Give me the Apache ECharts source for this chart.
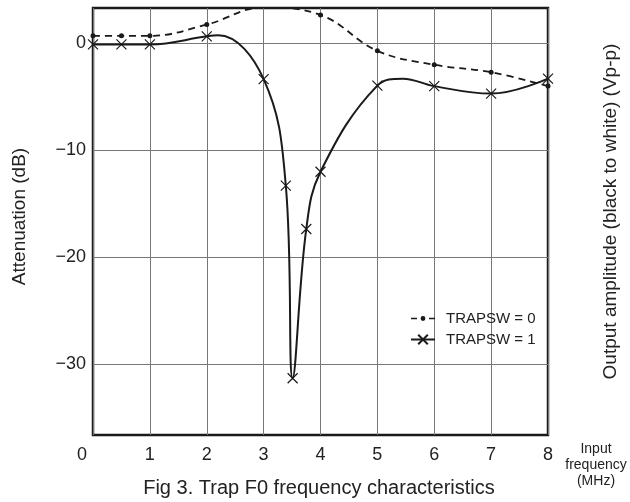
<!DOCTYPE html>
<html>
<head>
<meta charset="utf-8">
<script src="https://cdn.jsdelivr.net/npm/echarts@6/dist/echarts.min.js"></script>
<style>
html,body{margin:0;padding:0;background:#fff;}
#chart{width:630px;height:502px;}
</style>
</head>
<body>
<div id="chart"></div>
<script>
// Frequency (MHz) of measured points
const freq0 = [0, 0.5, 1, 2, 3, 4, 5, 6, 7, 8];
// TRAPSW = 0 attenuation (dB)
const att0 = [0.7, 0.7, 0.7, 1.75, 3.35, 2.65, -0.7, -2.0, -2.7, -4.0];
// TRAPSW = 1 measured points
const freq1 = [0, 0.5, 1, 2, 3, 3.39, 3.51, 3.75, 4, 5, 6, 7, 8];
const att1 = [-0.1, -0.1, -0.1, 0.65, -3.35, -13.3, -31.3, -17.35, -12.0, -3.95, -4.0, -4.7, -3.3];
// Unmarked points read along the TRAPSW = 1 curve (bends)
const bendFreq1 = [2.2, 5.45];
const bendAtt1 = [0.75, -3.3];
// Axis ticks
const xTicks = [0, 1, 2, 3, 4, 5, 6, 7, 8];
const yTicks = [-30, -20, -10, 0];
const seriesNames = ['TRAPSW = 0', 'TRAPSW = 1'];

const FONT = 'Liberation Sans, Arial, sans-serif';
const INK = '#1a1a1a';
const CROSS = 'path://M0,0L10,10M10,0L0,10';
const DASH_DOT_ICON = 'path://M0,4.2h6v1.6h-6z M18,4.2h6v1.6h-6z M14.4,5a2.4,2.4 0 1,1 -4.8,0a2.4,2.4 0 1,1 4.8,0z';

const data0 = freq0.map((f, i) => [f, att0[i]]);
const data1 = freq1.map((f, i) => ({ value: [f, att1[i]] }))
  .concat(bendFreq1.map((f, i) => ({ value: [f, bendAtt1[i]], symbol: 'none' })))
  .sort((a, b) => a.value[0] - b.value[0]);

const fmtY = v => (v < 0 ? '\u2212' + Math.abs(v) : String(v));

const chart = echarts.init(document.getElementById('chart'), null, { renderer: 'canvas' });
chart.setOption({
  animation: false,
  backgroundColor: '#fff',
  textStyle: { fontFamily: FONT },
  title: {
    text: 'Fig 3. Trap F0 frequency characteristics',
    left: 319, top: 478, textAlign: 'center', padding: 0,
    textStyle: { fontFamily: FONT, fontSize: 20, fontWeight: 'normal', color: '#222' }
  },
  grid: {
    left: 93, right: 82, top: 8, bottom: 67,
    show: true, borderColor: INK, borderWidth: 2.5, backgroundColor: 'transparent'
  },
  legend: {
    orient: 'vertical', left: 410, top: 311, padding: 0,
    itemWidth: 24, itemHeight: 12, itemGap: 6,
    data: [
      { name: seriesNames[0], icon: DASH_DOT_ICON, itemStyle: { color: INK } },
      { name: seriesNames[1] }
    ],
    textStyle: { fontFamily: FONT, fontSize: 15, color: '#222', padding: [0, 0, 0, 6] }
  },
  xAxis: {
    type: 'value', min: xTicks[0], max: xTicks[xTicks.length - 1], interval: 1,
    axisLine: { show: false }, axisTick: { show: false },
    splitLine: { show: true, lineStyle: { color: '#777', width: 1 } },
    axisLabel: {
      margin: 11, fontSize: 18, color: '#222', fontFamily: FONT,
      formatter: v => v === 0 ? '{z|0}' : String(v),
      rich: { z: { fontSize: 18, color: '#222', fontFamily: FONT, padding: [0, 22, 0, 0] } }
    }
  },
  yAxis: [{
    type: 'value', min: -36.6, max: 3.3,
    name: 'Attenuation (dB)', nameLocation: 'middle', nameGap: 64,
    nameTextStyle: { fontFamily: FONT, fontSize: 19, color: '#222', padding: [0, 0, 0, 10] },
    axisLine: { show: false },
    axisTick: { show: false, customValues: yTicks },
    splitLine: { show: true, lineStyle: { color: '#777', width: 1 } },
    axisLabel: { customValues: yTicks, margin: 7, fontSize: 18, color: '#222', fontFamily: FONT, formatter: fmtY }
  }, {
    type: 'value', min: -36.6, max: 3.3, position: 'right',
    name: 'Output amplitude (black to white) (Vp-p)', nameLocation: 'middle', nameGap: 53,
    nameTextStyle: { fontFamily: FONT, fontSize: 19, color: '#222', padding: [0, 0, 0, 20] },
    axisLine: { show: false }, axisTick: { show: false }, axisLabel: { show: false },
    splitLine: { show: false }
  }],
  graphic: [{
    type: 'text', x: 596, y: 441,
    style: {
      text: 'Input\nfrequency\n(MHz)', align: 'center', verticalAlign: 'top',
      lineHeight: 16, font: '14px ' + FONT, fill: '#222'
    }
  }],
  series: [{
    name: seriesNames[0], type: 'line', data: data0, smooth: 0.4,
    symbol: 'circle', symbolSize: 5,
    itemStyle: { color: INK },
    lineStyle: { color: INK, width: 1.8, type: [7, 5] },
    z: 3
  }, {
    name: seriesNames[1], type: 'line', data: data1, smooth: 0.4,
    symbol: CROSS, symbolSize: 10,
    itemStyle: { color: 'none', borderColor: INK, borderWidth: 1.2 },
    lineStyle: { color: INK, width: 2 },
    z: 4
  }]
});
</script>
</body>
</html>
